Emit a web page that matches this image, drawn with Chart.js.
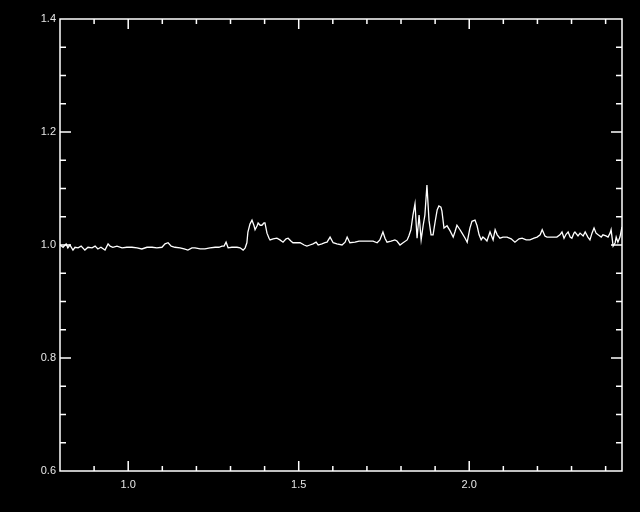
<!DOCTYPE html>
<html>
<head>
<meta charset="utf-8">
<script src="https://cdn.jsdelivr.net/npm/chart.js@4/dist/chart.umd.min.js"></script>
<style>
  html, body { margin: 0; padding: 0; background: #000; }
  #grafico { display: block; }
</style>
</head>
<body>
<canvas id="grafico" width="640" height="512"></canvas>
<script>
// datos (longitud de onda vs flujo normalizado)
const wavelength = [
  0.800, 0.809, 0.818, 0.823, 0.829, 0.838, 0.844, 0.853, 0.862, 0.873,
  0.882, 0.894, 0.903, 0.911, 0.920, 0.932, 0.941, 0.947, 0.955, 0.967,
  0.982, 0.996, 1.011, 1.026, 1.040, 1.055, 1.070, 1.084, 1.099, 1.108,
  1.117, 1.126, 1.137, 1.152, 1.164, 1.175, 1.187, 1.196, 1.211, 1.225,
  1.240, 1.255, 1.266, 1.275, 1.281, 1.287, 1.293, 1.304, 1.319, 1.328,
  1.337, 1.343, 1.348, 1.351, 1.357, 1.363, 1.369, 1.372, 1.378, 1.381,
  1.387, 1.392, 1.398, 1.401, 1.407, 1.413, 1.416, 1.425, 1.436, 1.445,
  1.454, 1.463, 1.469, 1.477, 1.483, 1.495, 1.504, 1.516, 1.524, 1.533,
  1.542, 1.551, 1.557, 1.568, 1.577, 1.583, 1.592, 1.601, 1.612, 1.627,
  1.636, 1.642, 1.650, 1.665, 1.677, 1.689, 1.703, 1.718, 1.730, 1.738,
  1.747, 1.753, 1.759, 1.771, 1.782, 1.788, 1.797, 1.806, 1.818, 1.823,
  1.829, 1.835, 1.841, 1.847, 1.853, 1.859, 1.865, 1.870, 1.876, 1.882,
  1.888, 1.894, 1.900, 1.906, 1.911, 1.917, 1.920, 1.926, 1.935, 1.944,
  1.953, 1.958, 1.964, 1.973, 1.979, 1.988, 1.994, 2.002, 2.008, 2.017,
  2.023, 2.029, 2.035, 2.040, 2.046, 2.052, 2.061, 2.070, 2.076, 2.082,
  2.090, 2.099, 2.111, 2.123, 2.134, 2.146, 2.155, 2.167, 2.178, 2.190,
  2.199, 2.208, 2.214, 2.222, 2.228, 2.243, 2.257, 2.266, 2.272, 2.278,
  2.284, 2.290, 2.296, 2.301, 2.307, 2.310, 2.319, 2.325, 2.334, 2.340,
  2.348, 2.354, 2.360, 2.366, 2.372, 2.378, 2.387, 2.392, 2.401, 2.407,
  2.413, 2.416, 2.422, 2.428, 2.431, 2.436, 2.442, 2.448
];
const flux = [
  1.000, 0.996, 1.002, 0.995, 1.000, 0.991, 0.996, 0.995, 0.998, 0.991,
  0.996, 0.995, 0.998, 0.993, 0.996, 0.991, 1.002, 0.998, 0.996, 0.998,
  0.995, 0.996, 0.996, 0.995, 0.993, 0.996, 0.996, 0.995, 0.996, 1.002,
  1.004, 0.998, 0.996, 0.995, 0.993, 0.991, 0.995, 0.995, 0.993, 0.993,
  0.995, 0.996, 0.996, 0.998, 0.998, 1.005, 0.995, 0.996, 0.996, 0.995,
  0.991, 0.995, 1.004, 1.023, 1.037, 1.044, 1.034, 1.027, 1.034, 1.039,
  1.035, 1.035, 1.039, 1.039, 1.021, 1.012, 1.009, 1.011, 1.012, 1.009,
  1.005, 1.011, 1.012, 1.007, 1.004, 1.004, 1.004, 1.000, 0.998, 1.000,
  1.002, 1.005, 1.000, 1.002, 1.004, 1.005, 1.014, 1.004, 1.002, 1.000,
  1.005, 1.014, 1.004, 1.005, 1.007, 1.007, 1.007, 1.007, 1.004, 1.009,
  1.023, 1.012, 1.005, 1.007, 1.009, 1.007, 1.000, 1.004, 1.009, 1.016,
  1.027, 1.053, 1.073, 1.012, 1.053, 1.009, 1.035, 1.053, 1.106, 1.044,
  1.018, 1.018, 1.041, 1.062, 1.069, 1.067, 1.060, 1.030, 1.034, 1.025,
  1.014, 1.023, 1.035, 1.027, 1.021, 1.012, 1.005, 1.030, 1.042, 1.044,
  1.034, 1.018, 1.009, 1.014, 1.011, 1.007, 1.023, 1.009, 1.027, 1.018,
  1.012, 1.014, 1.014, 1.011, 1.005, 1.011, 1.012, 1.009, 1.009, 1.012,
  1.014, 1.018, 1.027, 1.016, 1.014, 1.014, 1.014, 1.018, 1.023, 1.012,
  1.019, 1.023, 1.014, 1.012, 1.021, 1.023, 1.016, 1.021, 1.016, 1.023,
  1.014, 1.009, 1.021, 1.030, 1.021, 1.018, 1.014, 1.018, 1.016, 1.014,
  1.021, 1.027, 0.998, 1.004, 1.014, 1.005, 1.014, 1.032
];

const xRange = [0.8, 2.448];
const yRange = [0.6, 1.4];
const xMajorTicks = [1.0, 1.5, 2.0];
const xMinorTicks = [0.9, 1.1, 1.2, 1.3, 1.4, 1.6, 1.7, 1.8, 1.9, 2.1, 2.2, 2.3, 2.4];
const yMajorTicks = [0.6, 0.8, 1.0, 1.2, 1.4];
const yMinorTicks = [0.65, 0.7, 0.75, 0.85, 0.9, 0.95, 1.05, 1.1, 1.15, 1.25, 1.3, 1.35];

// marcas hacia adentro en los cuatro lados, estilo IDL
const marcasIDL = {
  id: "marcasIDL",
  afterDraw(chart) {
    const { ctx, chartArea: a, scales } = chart;
    ctx.save();
    ctx.strokeStyle = "#ffffff";
    ctx.lineWidth = 1.5;
    ctx.beginPath();
    ctx.rect(a.left, a.top, a.right - a.left, a.bottom - a.top);
    const xTick = (v, len) => {
      const px = scales.x.getPixelForValue(v);
      ctx.moveTo(px, a.bottom); ctx.lineTo(px, a.bottom - len);
      ctx.moveTo(px, a.top); ctx.lineTo(px, a.top + len);
    };
    const yTick = (v, len) => {
      const py = scales.y.getPixelForValue(v);
      ctx.moveTo(a.left, py); ctx.lineTo(a.left + len, py);
      ctx.moveTo(a.right, py); ctx.lineTo(a.right - len, py);
    };
    xMajorTicks.forEach((v) => xTick(v, 10));
    xMinorTicks.forEach((v) => xTick(v, 5));
    yMajorTicks.forEach((v) => yTick(v, 11));
    yMinorTicks.forEach((v) => yTick(v, 6));
    ctx.stroke();
    ctx.restore();
  },
};

const ctx = document.getElementById("grafico").getContext("2d");
const grafico = new Chart(ctx, {
  type: "line",
  data: {
    datasets: [
      {
        label: "flujo",
        data: wavelength.map((w, i) => ({ x: w, y: flux[i] })),
        borderColor: "#ffffff",
        borderWidth: 1.3,
        pointRadius: 0,
        tension: 0,
        fill: false,
      },
    ],
  },
  options: {
    responsive: false,
    animation: false,
    layout: { padding: { top: 19, right: 18, left: 0, bottom: 0 } },
    plugins: { legend: { display: false }, tooltip: { enabled: false } },
    scales: {
      x: {
        type: "linear",
        min: xRange[0],
        max: xRange[1],
        afterBuildTicks: (s) => { s.ticks = xMajorTicks.map((v) => ({ value: v })); },
        afterFit: (s) => { s.height = 41; },
        grid: { display: false, drawTicks: false },
        border: { display: false },
        ticks: {
          color: "#e6e6e6",
          font: { family: "Liberation Sans", size: 11 },
          padding: 7,
          maxRotation: 0,
          callback: (v) => Number(v).toFixed(1),
        },
      },
      y: {
        type: "linear",
        min: yRange[0],
        max: yRange[1],
        afterBuildTicks: (s) => { s.ticks = yMajorTicks.map((v) => ({ value: v })); },
        afterFit: (s) => { s.width = 60; },
        grid: { display: false, drawTicks: false },
        border: { display: false },
        ticks: {
          color: "#e6e6e6",
          font: { family: "Liberation Sans", size: 11 },
          padding: 4,
          callback: (v) => Number(v).toFixed(1),
        },
      },
    },
  },
  plugins: [marcasIDL],
});
</script>
</body>
</html>
